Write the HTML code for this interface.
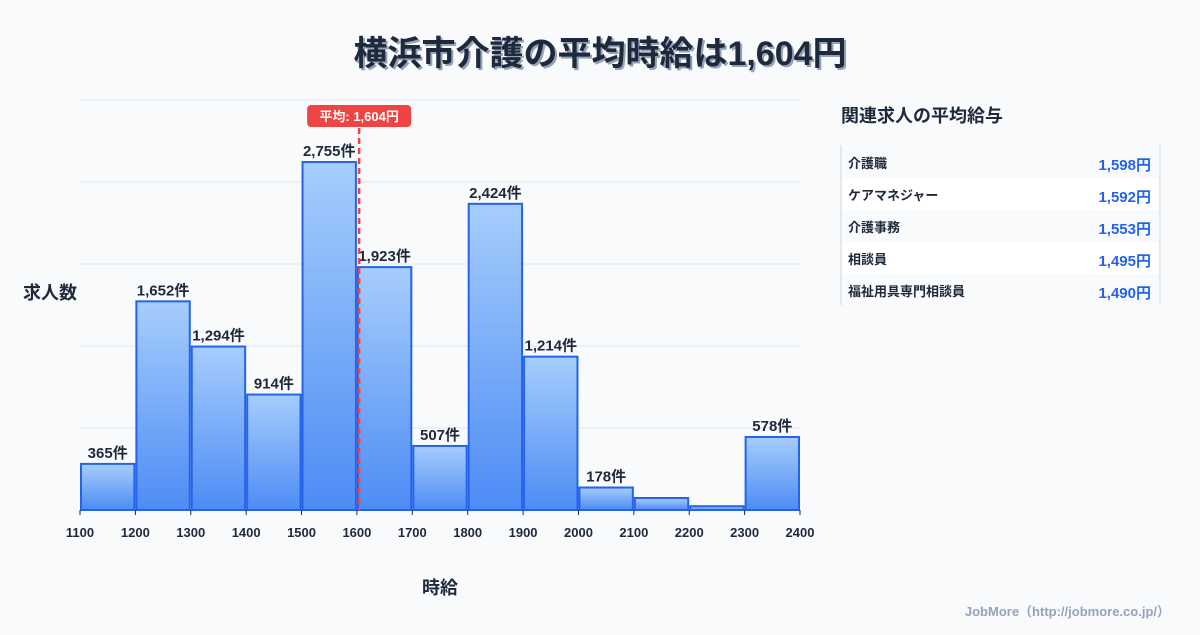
<!DOCTYPE html>
<html><head><meta charset="utf-8">
<style>
html,body{margin:0;padding:0;background:#f8fafc;}
body{width:1200px;height:630px;overflow:hidden;font-family:"Liberation Sans","Noto Sans CJK JP",sans-serif;}
svg text{font-family:"Liberation Sans","Noto Sans CJK JP",sans-serif;}
</style></head>
<body>
<svg id="chart" width="1200" height="630" viewBox="0 0 1200 630" xmlns="http://www.w3.org/2000/svg">
<defs>
<linearGradient id="bg" x1="0" y1="0" x2="0" y2="1">
<stop offset="0" stop-color="#a6cdfc"/><stop offset="1" stop-color="#4d8cf5"/>
</linearGradient>
</defs>
<rect width="1200" height="630" fill="#f8fafc"/>
<text x="602" y="67" text-anchor="middle" font-size="34" font-weight="bold" fill="#94a3b8">横浜市介護の平均時給は1,604円</text>
<text x="600" y="65" text-anchor="middle" font-size="34" font-weight="bold" fill="#1e293b">横浜市介護の平均時給は1,604円</text>
<g id="grid"></g>
<g id="bars"></g>
<g id="ticks"></g>
<g id="mean"></g>
<text x="50" y="299" text-anchor="middle" font-size="18" font-weight="bold" fill="#1e293b">求人数</text>
<text x="440" y="594" text-anchor="middle" font-size="18" font-weight="bold" fill="#1e293b">時給</text>
<text x="1170" y="616" text-anchor="end" font-size="13" font-weight="bold" fill="#94a3b8">JobMore（http://jobmore.co.jp/）</text>

<g>
<text x="841" y="122" font-size="18" font-weight="bold" fill="#1e293b">関連求人の平均給与</text>
<line x1="841" y1="145" x2="841" y2="305" stroke="#cbd5e1" stroke-width="1"/>
<line x1="1160" y1="145" x2="1160" y2="305" stroke="#cbd5e1" stroke-width="1"/>
<g id="rows"></g>
</g>
</svg>
<script>
const binStarts = [1100,1200,1300,1400,1500,1600,1700,1800,1900,2000,2100,2200,2300];
const counts = [365,1652,1294,914,2755,1923,507,2424,1214,178,95,30,578];
const showLabel = [true,true,true,true,true,true,true,true,true,true,false,false,true];
const xTicks = [1100,1200,1300,1400,1500,1600,1700,1800,1900,2000,2100,2200,2300,2400];
const meanValue = 1604;
const jobNames = ["介護職","ケアマネジャー","介護事務","相談員","福祉用具専門相談員"];
const jobWages = ["1,598円","1,592円","1,553円","1,495円","1,490円"];

const NS="http://www.w3.org/2000/svg";
const x0=80,x1=800,xmin=1100,xmax=2400,yBase=510,yTop=100,yMax=3246;
const xs=v=>x0+(v-xmin)/(xmax-xmin)*(x1-x0);
const ys=v=>yBase-v/yMax*(yBase-yTop);
function mk(tag,attrs,parent){const e=document.createElementNS(NS,tag);for(const k in attrs)e.setAttribute(k,attrs[k]);parent.appendChild(e);return e;}
const grid=document.getElementById('grid'),bars=document.getElementById('bars'),ticks=document.getElementById('ticks'),mean=document.getElementById('mean');
for(let i=0;i<=5;i++){const y=yTop+i*(yBase-yTop)/5;
 const l=mk('line',{x1:x0,x2:x1,y1:y,y2:y,stroke:'#e2e8f0','stroke-width':1},grid);
 
 }
binStarts.forEach((b,i)=>{
 const xa=xs(b)+1,xb=xs(b+100)-1,y=ys(counts[i]);
 const r=mk('rect',{x:xa,y:y,width:xb-xa,height:yBase-y,fill:'url(#bg)',stroke:'#2563eb','stroke-width':2},bars);
 
 
 if(showLabel[i]){const t=mk('text',{x:(xa+xb)/2,y:y-6,'text-anchor':'middle','font-size':15,'font-weight':'bold',fill:'#1e293b'},bars);
 t.textContent=counts[i].toLocaleString('en-US')+'件';
 
 }
});
xTicks.forEach(v=>{const x=xs(v);
 const l=mk('line',{x1:x,x2:x,y1:yBase,y2:yBase+5,stroke:'#1e293b','stroke-width':1},ticks);
 
 
 const t=mk('text',{x:x,y:yBase+27,'text-anchor':'middle','font-size':13,'font-weight':'bold',fill:'#1e293b'},ticks);
 t.textContent=v;
 
 });
const mx=xs(meanValue);
const ml=mk('line',{x1:mx,x2:mx,y1:128,y2:yBase,stroke:'#ef4444','stroke-width':2.5,'stroke-dasharray':'6,4'},mean);


const mr=mk('rect',{x:mx-52,y:105,width:104,height:22,rx:4,fill:'#ef4444'},mean);


const mt=mk('text',{x:mx,y:121,'text-anchor':'middle','font-size':13,'font-weight':'bold',fill:'#ffffff'},mean);
mt.textContent='平均: '+meanValue.toLocaleString('en-US')+'円';


const rows=document.getElementById('rows');
jobNames.forEach((n,i)=>{const y=146+i*32;
 const r=mk('rect',{x:842,y:y,width:317,height:32,fill:i%2?'#ffffff':'#f8fafc'},rows);
 
 
 const t=mk('text',{x:848,y:y+22,'font-size':13,'font-weight':'bold',fill:'#1e293b'},rows);
 t.textContent=n;
 
 
 const w=mk('text',{x:1151,y:y+24,'text-anchor':'end','font-size':15,'font-weight':'bold',fill:'#2563eb'},rows);
 w.textContent=jobWages[i];
 
 });
</script>
</body></html>
